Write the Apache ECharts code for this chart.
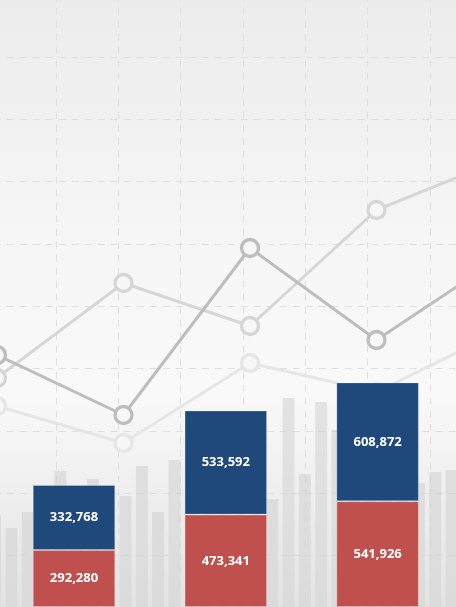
<!DOCTYPE html>
<html>
<head>
<meta charset="utf-8">
<script src="https://cdn.jsdelivr.net/npm/echarts@6/dist/echarts.min.js"></script>
<style>
  html, body { margin: 0; padding: 0; }
  #main { width: 456px; height: 607px; }
</style>
</head>
<body>
<div id="main"></div>
<script>
// main stacked bars
const categories = ['1', '2', '3']
const lowerValues = [292280, 473341, 541926]
const upperValues = [332768, 533592, 608872]

// faded backdrop: line chart with hollow points
const lineSlots = ['a', 'b', 'c', 'd', 'e']
const lineDark = [252, 192, 359, 267, 351]
const lineMid = [229, 324, 281, 397, 448]
const lineLight = [201, 164, 244, 215, 277]

// faded backdrop: thin gray columns
const columnHeights = [92, 79, 95, 107, 136, 112, 128, 70, 111, 141, 95, 147, 167, 132, 177,
  152, 185, 108, 209, 133, 205, 177, 152, 192, 162, 151, 124, 135, 137]

document.addEventListener('DOMContentLoaded', () => {
  drawChart()
})

function drawChart() {
  var chartDom = document.getElementById('main');
  var myChart = echarts.init(chartDom);
  var option;

  const fmt = v => v.toLocaleString('en-US')
  const hollow = (color) => ({
    type: 'line',
    xAxisIndex: 2,
    yAxisIndex: 2,
    symbol: 'circle',
    symbolSize: 17,
    silent: true,
    z: 1,
    lineStyle: { color: color, width: 3 },
    itemStyle: { color: '#f7f7f7', borderColor: color, borderWidth: 3.3 }
  })
  const hidden = { axisLine: { show: false }, axisTick: { show: false }, axisLabel: { show: false } }

  option = {
    animation: false,
    backgroundColor: {
      type: 'linear', x: 0, y: 0, x2: 0, y2: 1,
      colorStops: [
        { offset: 0, color: '#ececec' },
        { offset: 0.4, color: '#f6f6f6' },
        { offset: 0.65, color: '#f9f9f9' },
        { offset: 1, color: '#e3e3e3' }
      ]
    },
    grid: [
      // dashed backdrop grid
      { left: -6.3, top: -5.3, width: 498.4, height: 685.3, outerBoundsMode: 'none' },
      // backdrop columns
      { left: -13, top: 0, width: 472.7, height: 607, outerBoundsMode: 'none' },
      // backdrop lines
      { left: -3, top: 0, width: 506, height: 607, outerBoundsMode: 'none' },
      // real chart
      { left: -1.9, top: 0, width: 455.4, height: 607, outerBoundsMode: 'none' }
    ],
    xAxis: [
      Object.assign({
        gridIndex: 0, type: 'value', min: 0, max: 8, interval: 1,
        splitLine: { show: true, lineStyle: { color: '#dfdfdf', type: [7, 6], width: 1 } }
      }, hidden),
      Object.assign({ gridIndex: 1, type: 'category', data: columnHeights.map((v, i) => String(i)) }, hidden),
      Object.assign({ gridIndex: 2, type: 'category', data: lineSlots, boundaryGap: false }, hidden),
      Object.assign({ gridIndex: 3, type: 'category', data: categories }, hidden)
    ],
    yAxis: [
      Object.assign({
        gridIndex: 0, type: 'value', min: 0, max: 11, interval: 1, inverse: true,
        splitLine: { show: true, lineStyle: { color: '#dfdfdf', type: [7, 6], width: 1 } }
      }, hidden),
      Object.assign({ gridIndex: 1, type: 'value', min: 0, max: 607, splitLine: { show: false } }, hidden),
      Object.assign({ gridIndex: 2, type: 'value', min: 0, max: 607, splitLine: { show: false } }, hidden),
      Object.assign({ gridIndex: 3, type: 'value', min: 0, max: 3110000, splitLine: { show: false } }, hidden)
    ],
    series: [
      {
        type: 'scatter', xAxisIndex: 0, yAxisIndex: 0, data: [], silent: true
      },
      {
        type: 'bar',
        xAxisIndex: 1,
        yAxisIndex: 1,
        barWidth: 12,
        silent: true,
        z: 0,
        itemStyle: {
          color: {
            type: 'linear', x: 0, y: 0, x2: 0, y2: 1,
            colorStops: [
              { offset: 0, color: 'rgba(200,200,200,0.45)' },
              { offset: 1, color: 'rgba(200,200,200,0.3)' }
            ]
          }
        },
        data: columnHeights
      },
      Object.assign(hollow('#e6e6e6'), { data: lineLight }),
      Object.assign(hollow('#d6d6d6'), { data: lineMid }),
      Object.assign(hollow('#bdbdbd'), { data: lineDark }),
      {
        name: 'lower',
        type: 'bar',
        stack: 'total',
        xAxisIndex: 3,
        yAxisIndex: 3,
        barWidth: 82.5,
        z: 5,
        itemStyle: { color: '#c0504d', borderColor: 'rgba(255,255,255,0.25)', borderWidth: 1 },
        label: {
          show: true,
          position: 'inside',
          color: '#fff',
          fontFamily: 'Open Sans',
          fontWeight: 'bold',
          fontSize: 13,
          formatter: p => fmt(p.value)
        },
        data: lowerValues
      },
      {
        name: 'upper',
        type: 'bar',
        stack: 'total',
        xAxisIndex: 3,
        yAxisIndex: 3,
        barWidth: 82.5,
        z: 5,
        itemStyle: { color: '#1f487b', borderColor: 'rgba(255,255,255,0.25)', borderWidth: 1 },
        label: {
          show: true,
          position: 'inside',
          color: '#fff',
          fontFamily: 'Open Sans',
          fontWeight: 'bold',
          fontSize: 13,
          formatter: p => fmt(p.value)
        },
        data: upperValues
      }
    ]
  };

  option && myChart.setOption(option);
}
</script>
</body>
</html>
